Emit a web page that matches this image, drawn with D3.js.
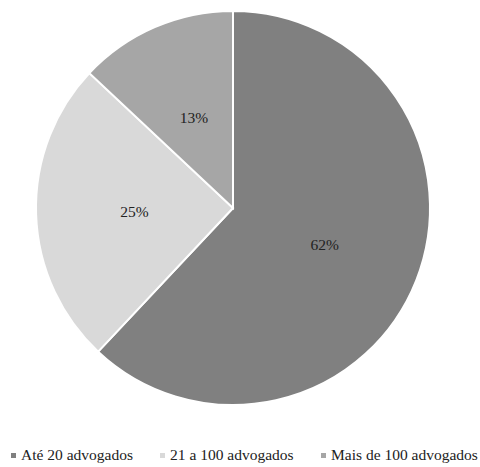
<!DOCTYPE html>
<html>
<head>
<meta charset="utf-8">
<script src="https://cdn.jsdelivr.net/npm/d3@7"></script>
<style>
html,body{margin:0;padding:0;background:#fff;}
svg{display:block;}
</style>
</head>
<body>
<svg id="chart" width="480" height="467"></svg>
<script>
const categories = ["Até 20 advogados", "21 a 100 advogados", "Mais de 100 advogados"];
const values = [62, 25, 13];
const labels = ["62%", "25%", "13%"];
const colors = ["#808080", "#d9d9d9", "#a6a6a6"];

const svg = d3.select("#chart");
const cx = 233, cy = 208, r = 197;

const pie = d3.pie().sort(null).value(d => d)(values);
const arc = d3.arc().innerRadius(0).outerRadius(r);
const labelArc = d3.arc().innerRadius(r * 0.5).outerRadius(r * 0.5);

const g = svg.append("g").attr("transform", `translate(${cx},${cy})`);
g.selectAll("path").data(pie).join("path")
  .attr("d", arc)
  .attr("fill", (d, i) => colors[i])
  .attr("stroke", "#fff")
  .attr("stroke-width", 2);

g.selectAll("text").data(pie).join("text")
  .attr("transform", d => `translate(${labelArc.centroid(d)})`)
  .attr("text-anchor", "middle")
  .attr("dy", "0.35em")
  .attr("font-family", "Liberation Serif")
  .attr("font-size", 15.5)
  .attr("fill", "#222")
  .text((d, i) => labels[i]);

const legendX = d3.scaleOrdinal().domain(categories).range([21, 170, 331]);
const leg = svg.append("g");
categories.forEach((c, i) => {
  const x = legendX(c);
  leg.append("rect").attr("x", x - 10).attr("y", 453).attr("width", 5).attr("height", 5).attr("fill", colors[i]);
  leg.append("text").attr("x", x).attr("y", 460)
    .attr("font-family", "Liberation Serif")
    .attr("font-size", 15.5).attr("fill", "#222").text(c);
});
</script>
</body>
</html>
